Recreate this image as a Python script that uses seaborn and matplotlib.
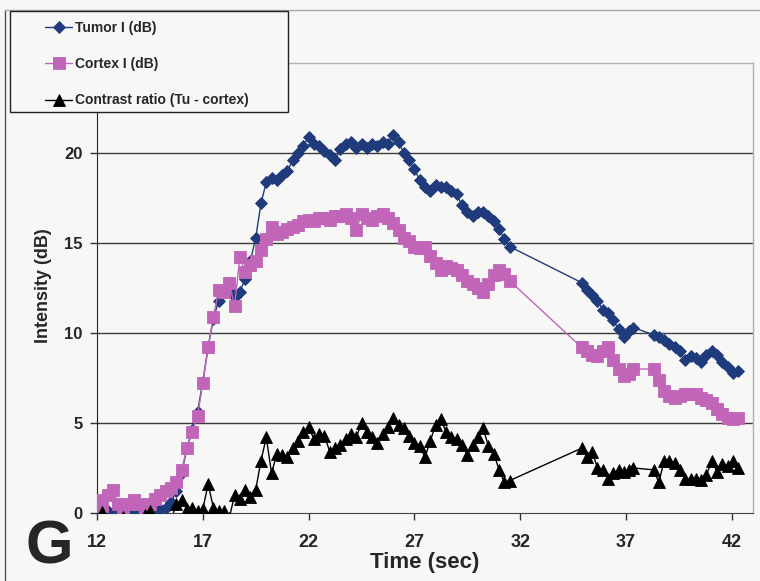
import matplotlib
matplotlib.use('Agg')
import matplotlib.pyplot as plt
from matplotlib.patches import Rectangle
from matplotlib.lines import Line2D
import seaborn as sns

time_s = [12.0, 12.25, 12.5, 12.75, 13.0, 13.25, 13.5, 13.75,
          14.0, 14.25, 14.5, 14.75, 15.0, 15.25, 15.5, 15.75,
          16.0, 16.25, 16.5, 16.75, 17.0, 17.25, 17.5, 17.75,
          18.0, 18.25, 18.5, 18.75, 19.0, 19.25, 19.5, 19.75,
          20.0, 20.25, 20.5, 20.75, 21.0, 21.25, 21.5, 21.75,
          22.0, 22.25, 22.5, 22.75, 23.0, 23.25, 23.5, 23.75,
          24.0, 24.25, 24.5, 24.75, 25.0, 25.25, 25.5, 25.75,
          26.0, 26.25, 26.5, 26.75, 27.0, 27.25, 27.5, 27.75,
          28.0, 28.25, 28.5, 28.75, 29.0, 29.25, 29.5, 29.75,
          30.0, 30.25, 30.5, 30.75, 31.0, 31.25, 31.5,
          34.9, 35.15, 35.4, 35.65, 35.9, 36.15, 36.4, 36.65, 36.9, 37.15, 37.35,
          38.3, 38.55, 38.8, 39.05, 39.3, 39.55, 39.8, 40.05, 40.3, 40.55,
          40.8, 41.05, 41.3, 41.55, 41.8, 42.05, 42.3]

tumor_db = [0.1, 0.0, 0.1, 0.0, 0.0, 0.1, 0.0, 0.1,
            0.0, 0.1, 0.0, 0.1, 0.2, 0.3, 0.6, 1.2,
            2.2, 3.6, 4.6, 5.6, 7.3, 9.2, 10.8, 11.8,
            12.3, 12.4, 12.0, 12.3, 13.0, 14.0, 15.3, 17.2,
            18.4, 18.6, 18.5, 18.8, 19.0, 19.6, 20.0, 20.4,
            20.9, 20.5, 20.4, 20.1, 19.9, 19.6, 20.2, 20.5,
            20.6, 20.3, 20.5, 20.3, 20.5, 20.4, 20.6, 20.5,
            21.0, 20.6, 20.0, 19.6, 19.1, 18.5, 18.1, 17.9,
            18.2, 18.1, 18.1, 17.9, 17.7, 17.1, 16.7, 16.5,
            16.7, 16.7, 16.5, 16.2, 15.8, 15.2, 14.8,
            12.8, 12.4, 12.1, 11.8, 11.3, 11.1, 10.7, 10.2, 9.8, 10.1, 10.3,
            9.9, 9.8, 9.6, 9.4, 9.2, 9.0, 8.5, 8.7, 8.6, 8.4,
            8.8, 9.0, 8.8, 8.4, 8.1, 7.8, 7.9]

cortex_db = [0.7, 0.4, 1.0, 1.3, 0.5, 0.3, 0.5, 0.7,
             0.5, 0.3, 0.5, 0.8, 1.0, 1.2, 1.4, 1.7,
             2.4, 3.6, 4.5, 5.4, 7.2, 9.2, 10.9, 12.4,
             12.3, 12.8, 11.5, 14.2, 13.4, 13.8, 14.0, 14.6,
             15.2, 15.9, 15.5, 15.6, 15.8, 15.9, 16.0, 16.2,
             16.3, 16.2, 16.4, 16.4, 16.3, 16.5, 16.5, 16.6,
             16.4, 15.7, 16.6, 16.4, 16.3, 16.5, 16.6, 16.4,
             16.1, 15.7, 15.3, 15.1, 14.8, 14.7, 14.8, 14.3,
             13.9, 13.5, 13.7, 13.6, 13.5, 13.2, 12.9, 12.7,
             12.5, 12.3, 12.7, 13.2, 13.5, 13.3, 12.9,
             9.2, 9.0, 8.8, 8.7, 9.0, 9.2, 8.5, 8.0, 7.6, 7.7, 8.0,
             8.0, 7.4, 6.8, 6.5, 6.4, 6.5, 6.6, 6.6, 6.6, 6.4,
             6.3, 6.1, 5.8, 5.5, 5.3, 5.2, 5.3]

contrast_db = [-0.6, 0.05, -0.5, -1.0, -0.4, -0.2, -0.5, -0.6,
               -0.4, -0.1, 0.1, -0.5, -0.6, -0.8, -0.4, 0.5,
               0.7, 0.2, 0.3, 0.1, 0.2, 1.6, 0.3, 0.1,
               0.1, -0.3, 1.0, 0.8, 1.3, 0.9, 1.3, 2.9,
               4.2, 2.2, 3.3, 3.2, 3.1, 3.6, 4.0, 4.5,
               4.8, 4.1, 4.4, 4.3, 3.4, 3.6, 3.8, 4.1,
               4.4, 4.2, 5.0, 4.5, 4.2, 3.9, 4.4, 4.8,
               5.3, 4.9, 4.7, 4.3, 3.9, 3.7, 3.1, 4.0,
               4.9, 5.2, 4.5, 4.2, 4.1, 3.8, 3.2, 3.8,
               4.2, 4.7, 3.7, 3.3, 2.4, 1.7, 1.8,
               3.6, 3.1, 3.4, 2.5, 2.4, 1.9, 2.2, 2.4, 2.3, 2.4, 2.5,
               2.4, 1.7, 2.9, 2.9, 2.8, 2.4, 1.9, 1.9, 1.9, 1.85,
               2.1, 2.9, 2.3, 2.7, 2.6, 2.9, 2.5]

x_ticks = [12, 17, 22, 27, 32, 37, 42]
y_ticks = [0, 5, 10, 15, 20]
series_labels = ['Tumor I (dB)', 'Cortex I (dB)', 'Contrast ratio (Tu - cortex)']

sns.set_style('white')
plt.rcParams['font.family'] = ['Liberation Sans', 'DejaVu Sans']

bg = '#f7f7f5'
navy = '#1f3b7c'
pink = '#c065b8'

fig = plt.figure(figsize=(7.6, 5.81), dpi=100, facecolor=bg)
ax = fig.add_axes([97 / 760, 1 - 513 / 581, 656 / 760, 450 / 581])
ax.set_facecolor(bg)

for gy in [5, 10, 15, 20]:
    ax.axhline(gy, color='#3c3c3c', lw=1.0, zorder=1)

sns.lineplot(x=time_s, y=tumor_db, ax=ax, color=navy, lw=1.0, marker='D',
             markersize=6, markeredgecolor=navy, markeredgewidth=0.6,
             sort=False, estimator=None, label=series_labels[0], zorder=3)
sns.lineplot(x=time_s, y=cortex_db, ax=ax, color=pink, lw=1.0, marker='s',
             markersize=8, markeredgecolor=pink, markeredgewidth=0.6,
             sort=False, estimator=None, label=series_labels[1], zorder=4)
sns.lineplot(x=time_s, y=contrast_db, ax=ax, color='black', lw=1.0, marker='^',
             markersize=8.5, markeredgecolor='black', markeredgewidth=0.6,
             sort=False, estimator=None, label=series_labels[2], zorder=5)

ax.set_xlim(12, 43)
ax.set_ylim(0, 25)
ax.set_xticks(x_ticks)
ax.set_yticks(y_ticks)
ax.tick_params(axis='both', bottom=True, left=True, direction='out', length=5,
               width=1, color='#333333')
ax.tick_params(axis='y', labelsize=12, pad=5.5)
ax.tick_params(axis='x', labelsize=13, pad=10)
for lab in ax.get_yticklabels():
    lab.set_fontweight('bold')
for lab in ax.get_xticklabels():
    lab.set_fontweight('bold')

for side in ['top', 'right']:
    ax.spines[side].set_color('#b0b0b0')
    ax.spines[side].set_linewidth(1)
ax.spines['left'].set_color('#222222')
ax.spines['bottom'].set_color('#444444')

ax.set_xlabel('Time (sec)', fontsize=16, fontweight='bold')
ax.xaxis.set_label_coords(0.5, -0.087)
ax.set_ylabel('Intensity (dB)', fontsize=13, fontweight='bold')
ax.yaxis.set_label_coords(-0.069, 0.505)

handles, labels = ax.get_legend_handles_labels()
ax.get_legend().remove()

# chart-area border and legend box
fig.add_artist(Line2D([5 / 760, 5 / 760], [0, 1 - 10 / 581], transform=fig.transFigure,
                      color='#555555', lw=1))
fig.add_artist(Line2D([5 / 760, 1], [1 - 10 / 581, 1 - 10 / 581], transform=fig.transFigure,
                      color='#aaaaaa', lw=1))
fig.add_artist(Rectangle((10 / 760, 1 - 112 / 581), 278 / 760, 101 / 581,
                         transform=fig.transFigure, facecolor=bg, edgecolor='#222222',
                         lw=1, zorder=4))
fig.legend(handles, labels, loc='upper left', bbox_to_anchor=(45 / 760, 1 - 21 / 581),
           frameon=False, borderpad=0, borderaxespad=0, handlelength=1.95,
           handletextpad=0.2, labelspacing=1.6, prop={'weight': 'bold', 'size': 10})

fig.text(49 / 760, 1 - 563 / 581, 'G', fontsize=44, fontweight='bold',
         ha='center', va='baseline')

fig.savefig('out.png', dpi=100, facecolor=bg)
